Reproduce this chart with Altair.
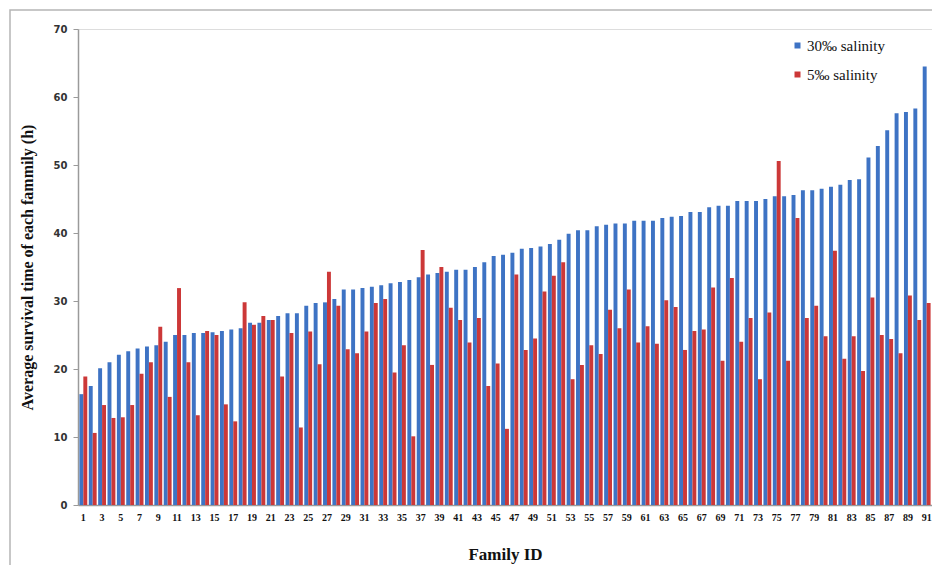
import altair as alt
import pandas as pd

families = list(range(1, 92))

salinity_30 = [
    16.3, 17.5, 20.1, 21.0, 22.1, 22.6, 23.0, 23.3, 23.5, 24.0,
    25.0, 25.0, 25.3, 25.3, 25.4, 25.6, 25.8, 26.0, 26.8, 26.8,
    27.2, 27.8, 28.2, 28.2, 29.3, 29.7, 29.8, 30.3, 31.7, 31.7,
    31.9, 32.1, 32.3, 32.6, 32.8, 33.1, 33.5, 33.9, 34.1, 34.3,
    34.6, 34.6, 35.0, 35.7, 36.6, 36.8, 37.1, 37.7, 37.8, 38.0,
    38.4, 39.0, 39.9, 40.4, 40.4, 41.0, 41.2, 41.4, 41.4, 41.8,
    41.8, 41.8, 42.2, 42.4, 42.5, 43.1, 43.1, 43.8, 44.0, 44.0,
    44.7, 44.7, 44.7, 45.0, 45.4, 45.4, 45.6, 46.3, 46.3, 46.5,
    46.8, 47.1, 47.8, 47.9, 51.1, 52.8, 55.1, 57.6, 57.8, 58.3,
    64.5,
]

salinity_5 = [
    18.9, 10.6, 14.7, 12.8, 12.9, 14.7, 19.3, 21.0, 26.2, 15.9,
    31.9, 21.0, 13.2, 25.6, 25.0, 14.8, 12.3, 29.8, 26.5, 27.8,
    27.2, 18.9, 25.3, 11.4, 25.5, 20.7, 34.3, 29.3, 22.9, 22.3,
    25.5, 29.7, 30.3, 19.5, 23.5, 10.1, 37.5, 20.6, 35.0, 29.0,
    27.2, 23.9, 27.5, 17.5, 20.8, 11.2, 33.9, 22.8, 24.5, 31.4,
    33.7, 35.7, 18.5, 20.6, 23.5, 22.2, 28.7, 26.0, 31.7, 23.9,
    26.3, 23.7, 30.1, 29.1, 22.8, 25.6, 25.8, 32.0, 21.2, 33.4,
    24.0, 27.5, 18.5, 28.3, 50.6, 21.2, 42.2, 27.5, 29.3, 24.8,
    37.4, 21.5, 24.8, 19.7, 30.5, 25.0, 24.4, 22.3, 30.8, 27.2,
    29.7,
]

series_names = ["30\u2030 salinity", "5\u2030 salinity"]
series_colors = ["#3E73C4", "#CC3838"]
x_tick_labels = [str(f) for f in families if f % 2 == 1]

rows = []
for f, a, b in zip(families, salinity_30, salinity_5):
    rows.append({"family": str(f), "series": series_names[0], "value": a})
    rows.append({"family": str(f), "series": series_names[1], "value": b})
df = pd.DataFrame(rows)

W, H = 854, 476
serif = "Liberation Serif"

bars = alt.Chart(df).mark_bar().encode(
    x=alt.X(
        "family:N",
        sort=[str(f) for f in families],
        scale=alt.Scale(paddingInner=0.16, paddingOuter=0.15),
        axis=alt.Axis(
            title="Family ID",
            values=x_tick_labels,
            labelAngle=0,
            labelFont=serif,
            labelFontSize=10,
            labelFontWeight="bold",
            labelColor="#111111",
            ticks=False,
            domainColor="#9a9a9a",
            domainWidth=1.5,
            titleFont=serif,
            titleFontSize=17,
            titleFontWeight="bold",
            titleColor="#111111",
            titlePadding=24,
            labelPadding=7,
        ),
    ),
    xOffset=alt.XOffset("series:N", sort=series_names),
    y=alt.Y(
        "value:Q",
        scale=alt.Scale(domain=[0, 70]),
        axis=alt.Axis(
            title="Average survival time of each fammily (h)",
            values=[0, 10, 20, 30, 40, 50, 60, 70],
            grid=False,
            labelFont="DejaVu Sans",
            labelFontSize=10,
            labelFontWeight="bold",
            labelColor="#333333",
            tickColor="#9a9a9a",
            tickSize=5,
            domainColor="#9a9a9a",
            domainWidth=1.5,
            labelPadding=6,
            titleFont=serif,
            titleFontSize=16,
            titleFontWeight="bold",
            titleColor="#111111",
            titlePadding=18,
        ),
    ),
    color=alt.Color(
        "series:N",
        sort=series_names,
        scale=alt.Scale(domain=series_names, range=series_colors),
        legend=alt.Legend(
            title=None,
            orient="none",
            legendX=712,
            legendY=9,
            symbolType="square",
            symbolSize=36,
            symbolStrokeWidth=0,
            labelFont=serif,
            labelFontSize=15,
            labelColor="#111111",
            rowPadding=13,
            labelOffset=2,
        ),
    ),
)

frame = alt.Chart(pd.DataFrame({"k": [0]})).mark_rect(
    fill=None, stroke="#b5b5b5", strokeWidth=1.5, clip=False
).encode(
    x=alt.value(-68), x2=alt.value(W + 40),
    y=alt.value(-19), y2=alt.value(H + 120),
)

chart = alt.layer(frame, bars).properties(
    width=W,
    height=H,
    padding={"left": 70, "top": 21, "right": 0, "bottom": 60},
    autosize=alt.AutoSizeParams(type="none"),
).configure_view(stroke=None).configure(background="white")

chart.save("out.html", embed_options={"renderer": "svg", "actions": False})
